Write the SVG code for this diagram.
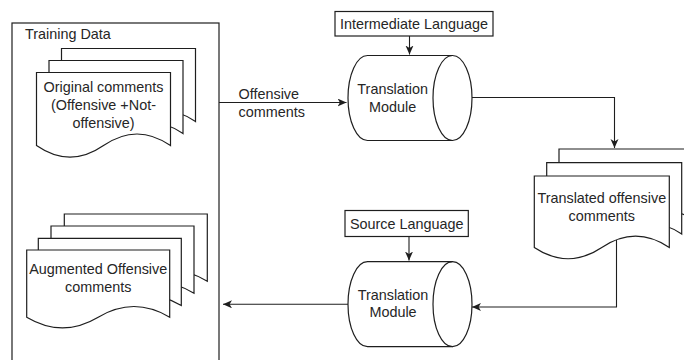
<svg xmlns="http://www.w3.org/2000/svg" xmlns:xlink="http://www.w3.org/1999/xlink" width="684" height="360" viewBox="0 0 684 360">
  <style>
    .shape { fill: #ffffff; stroke: #1e1e1e; stroke-width: 1.2; }
    .edge { fill: none; stroke: #1e1e1e; stroke-width: 1.1; }
    .lbl { font-family: "Liberation Sans", Arial, sans-serif; font-size: 14.4px; fill: #262626; text-anchor: middle; }
    .lbl-l { text-anchor: start; }
  </style>
  <defs>
    <marker id="arrow" markerUnits="userSpaceOnUse" markerWidth="10" markerHeight="10" refX="9" refY="4" orient="auto">
      <path d="M0,0 L9,4 L0,8 L2.4,4 Z" fill="#1e1e1e"/>
    </marker>
    <!-- document pages with wavy bottom edge, one per stack size -->
    <path id="docA" d="M0,0 H134 V73.1 Q100.5,49.9 67,73.1 Q33.5,96.3 0,73.1 Z"/>
    <path id="docB" d="M0,0 H143 V67.2 Q107.3,45.8 71.5,67.2 Q35.8,88.5 0,67.2 Z"/>
    <path id="docC" d="M0,0 H135 V71.4 Q101.3,48.7 67.5,71.4 Q33.8,94.1 0,71.4 Z"/>
    <!-- horizontal cylinder body and its front ellipse -->
    <g id="cyl">
      <path d="M19.5,0 H104.5 A19.5,42.5 0 0 1 104.5,85 H19.5 A19.5,42.5 0 0 1 19.5,0 Z"/>
      <path d="M104.5,0 A19.5,42.5 0 0 0 104.5,85" fill="none"/>
    </g>
  </defs>

  <!-- connectors -->
  <g id="connectors">
    <path class="edge" d="M219,102.5 H346.5" marker-end="url(#arrow)"/>
    <path class="edge" d="M472,97.5 H614.5 V148" marker-end="url(#arrow)"/>
    <path class="edge" d="M616.5,240 V307 H472" marker-end="url(#arrow)"/>
    <path class="edge" d="M348,304.3 H223" marker-end="url(#arrow)"/>
    <path class="edge" d="M409.5,36 V54.5" marker-end="url(#arrow)"/>
    <path class="edge" d="M409,236.5 V260.5" marker-end="url(#arrow)"/>
  </g>

  <!-- training data container -->
  <g id="training-data">
    <rect class="shape" x="12" y="23" width="207" height="345"/>
    <text class="lbl lbl-l" x="25" y="38.5">Training Data</text>
  </g>

  <g id="original-comments">
    <use class="shape" xlink:href="#docA" href="#docA" x="61.5" y="48.5"/>
    <use class="shape" xlink:href="#docA" href="#docA" x="49" y="60.5"/>
    <use class="shape" xlink:href="#docA" href="#docA" x="36.5" y="72.5"/>
    <text class="lbl" x="103.5" y="91.7">Original comments</text>
    <text class="lbl" x="103.5" y="110">(Offensive +Not-</text>
    <text class="lbl" x="103.5" y="128.3">offensive)</text>
  </g>

  <g id="augmented-comments">
    <use class="shape" xlink:href="#docB" href="#docB" x="64.3" y="214"/>
    <use class="shape" xlink:href="#docB" href="#docB" x="51" y="226"/>
    <use class="shape" xlink:href="#docB" href="#docB" x="38.3" y="238.3"/>
    <use class="shape" xlink:href="#docB" href="#docB" x="26.7" y="250"/>
    <text class="lbl" x="98.2" y="273.8">Augmented Offensive</text>
    <text class="lbl" x="98.2" y="291.7">comments</text>
  </g>

  <g id="edge-label-offensive">
    <text class="lbl lbl-l" x="238.5" y="99.3">Offensive</text>
    <text class="lbl lbl-l" x="238.5" y="116.7">comments</text>
  </g>

  <g id="intermediate-language">
    <rect class="shape" x="335" y="11.5" width="158" height="24.5"/>
    <text class="lbl" x="414" y="29.3">Intermediate Language</text>
  </g>

  <g id="translation-module-1">
    <use class="shape" xlink:href="#cyl" href="#cyl" x="348" y="55.5"/>
    <text class="lbl" x="392.7" y="94">Translation</text>
    <text class="lbl" x="392.7" y="111.7">Module</text>
  </g>

  <g id="translated-comments">
    <use class="shape" xlink:href="#docC" href="#docC" x="559" y="149"/>
    <use class="shape" xlink:href="#docC" href="#docC" x="546.7" y="162.7"/>
    <use class="shape" xlink:href="#docC" href="#docC" x="534.3" y="176"/>
    <text class="lbl" x="601.8" y="203.3">Translated offensive</text>
    <text class="lbl" x="601.8" y="221">comments</text>
  </g>

  <g id="source-language">
    <rect class="shape" x="345" y="210.5" width="123.3" height="26"/>
    <text class="lbl" x="406.7" y="229">Source Language</text>
  </g>

  <g id="translation-module-2">
    <use class="shape" xlink:href="#cyl" href="#cyl" x="348" y="261.7"/>
    <text class="lbl" x="393" y="300">Translation</text>
    <text class="lbl" x="393" y="316.7">Module</text>
  </g>
</svg>
